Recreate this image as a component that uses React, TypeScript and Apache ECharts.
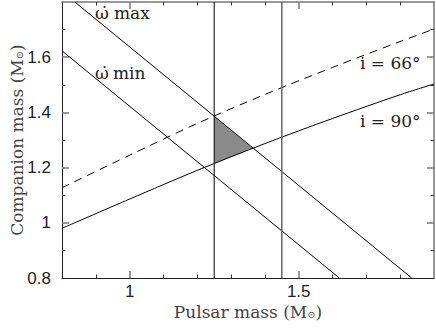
import React, { useEffect, useRef } from "react";
import * as echarts from "echarts";

// Axis ranges and ticks
const xRange = [0.8, 1.9];
const yRange = [0.8, 1.8];
const xMajorTicks = [1, 1.5];
const xMinorTicks = [0.9, 1.1, 1.2, 1.3, 1.4, 1.6, 1.7, 1.8];
const yMajorTicks = [1, 1.2, 1.4, 1.6];
const yMinorTicks = [0.9, 1.1, 1.3, 1.5, 1.7];
const xTickLabels = [1, 1.5];
const yTickLabels = [0.8, 1, 1.2, 1.4, 1.6];

// Constraint lines (pulsar mass, companion mass)
const omegaMaxX = [0.838, 1.834];
const omegaMaxY = [1.8, 0.8];
const omegaMinX = [0.8, 1.62];
const omegaMinY = [1.623, 0.8];
const incl90X = [0.8, 1.0, 1.2, 1.4, 1.6, 1.8, 1.9];
const incl90Y = [0.98, 1.086, 1.19, 1.287, 1.378, 1.464, 1.503];
const incl66X = [0.8, 1.0, 1.2, 1.4, 1.6, 1.8, 1.9];
const incl66Y = [1.127, 1.245, 1.36, 1.465, 1.563, 1.657, 1.702];
const vertLow = 1.25;
const vertHigh = 1.45;
// Allowed region (shaded triangle)
const shadeX = [1.25, 1.25, 1.364];
const shadeY = [1.387, 1.214, 1.27];

const FONT_SERIF = "DejaVu Serif";
const FONT_SANS = "Liberation Sans";

function pairs(xs: number[], ys: number[]) {
  return xs.map((x, i) => [x, ys[i]]);
}

function makeAxis(
  dir: "x" | "y",
  position: string,
  range: number[],
  ticks: number[],
  len: number,
  tickColor: string,
  tickWidth: number,
  labels: number[] | null,
  line: { color: string; width: number } | null,
  extra: any = {}
) {
  return {
    type: "value",
    position,
    min: range[0],
    max: range[1],
    axisLine: line
      ? { show: true, onZero: false, lineStyle: { color: line.color, width: line.width } }
      : { show: false, onZero: false },
    axisTick: {
      show: true,
      inside: true,
      length: len,
      customValues: ticks,
      lineStyle: { color: tickColor, width: tickWidth },
    },
    axisLabel: labels
      ? {
          show: true,
          customValues: labels,
          fontFamily: FONT_SANS,
          fontSize: 17,
          color: "#222",
          margin: dir === "x" ? 5 : 11,
        }
      : { show: false },
    splitLine: { show: false },
    ...extra,
  };
}

export default function App() {
  const ref = useRef<HTMLDivElement>(null);

  useEffect(() => {
    if (!ref.current) return;
    const chart = echarts.init(ref.current, null, { renderer: "svg" });
    const subRich = {
      s: { fontFamily: FONT_SERIF, fontSize: 10, color: "#444", padding: [5, 0, 0, 0] },
    };
    const option: any = {
      animation: false,
      backgroundColor: "#fff",
      grid: {
        left: 62,
        right: 2,
        top: 2,
        bottom: 56,
        containLabel: false,
        outerBoundsMode: "none",
      },
      xAxis: [
        makeAxis("x", "bottom", xRange, xMinorTicks, 3.5, "#333", 1, null, { color: "#222", width: 1 }),
        makeAxis("x", "bottom", xRange, xMajorTicks, 7, "#777", 1.5, xTickLabels, null, {
          name: "Pulsar mass (M{s|⊙})",
          nameLocation: "middle",
          nameGap: 25,
          nameMoveOverlap: false,
          nameTextStyle: {
            fontFamily: FONT_SERIF,
            fontSize: 17,
            color: "#444",
            rich: subRich,
          },
        }),
        makeAxis("x", "top", xRange, xMinorTicks, 3.5, "#333", 1, null, { color: "#777", width: 1.5 }),
        makeAxis("x", "top", xRange, xMajorTicks, 7, "#777", 1.5, null, null),
      ],
      yAxis: [
        makeAxis("y", "left", yRange, yMinorTicks, 3.5, "#333", 1, null, { color: "#222", width: 1 }),
        makeAxis("y", "left", yRange, yMajorTicks, 7, "#777", 1.5, yTickLabels, null, {
          name: "Companion mass (M{s|⊙})",
          nameLocation: "middle",
          nameGap: 37,
          nameMoveOverlap: false,
          nameTextStyle: {
            fontFamily: FONT_SERIF,
            fontSize: 17,
            color: "#444",
            rich: subRich,
          },
        }),
        makeAxis("y", "right", yRange, yMinorTicks, 3.5, "#333", 1, null, { color: "#777", width: 1.5 }),
        makeAxis("y", "right", yRange, yMajorTicks, 7, "#777", 1.5, null, null),
      ],
      series: [
        {
          type: "custom",
          xAxisIndex: 0,
          yAxisIndex: 0,
          data: [0],
          z: 1,
          renderItem: (_params: any, api: any) => ({
            type: "polygon",
            shape: { points: shadeX.map((x, i) => api.coord([x, shadeY[i]])) },
            style: { fill: "#8a8a8a", stroke: "none" },
          }),
        },
        {
          type: "line",
          data: pairs(omegaMaxX, omegaMaxY),
          symbol: "none",
          lineStyle: { color: "#000", width: 1 },
          z: 3,
        },
        {
          type: "line",
          data: pairs(omegaMinX, omegaMinY),
          symbol: "none",
          lineStyle: { color: "#000", width: 1 },
          z: 3,
        },
        {
          type: "line",
          data: pairs(incl90X, incl90Y),
          symbol: "none",
          smooth: 0.3,
          lineStyle: { color: "#000", width: 1 },
          z: 3,
        },
        {
          type: "line",
          data: pairs(incl66X, incl66Y),
          symbol: "none",
          smooth: 0.3,
          lineStyle: { color: "#000", width: 1, type: [8, 6] },
          z: 3,
        },
        {
          type: "line",
          data: [
            [vertLow, yRange[0]],
            [vertLow, yRange[1]],
          ],
          symbol: "none",
          lineStyle: { color: "#000", width: 1 },
          z: 3,
        },
        {
          type: "line",
          data: [
            [vertHigh, yRange[0]],
            [vertHigh, yRange[1]],
          ],
          symbol: "none",
          lineStyle: { color: "#666", width: 1.5 },
          z: 3,
        },
      ],
      graphic: [
        {
          type: "text",
          x: 95,
          y: 13,
          style: { text: "ω̇", font: `17px '${FONT_SERIF}'`, fill: "#222", verticalAlign: "middle" },
        },
        {
          type: "text",
          x: 114,
          y: 13,
          style: { text: "max", font: `17px '${FONT_SERIF}'`, fill: "#222", verticalAlign: "middle" },
        },
        {
          type: "text",
          x: 95,
          y: 73,
          style: { text: "ω̇", font: `17px '${FONT_SERIF}'`, fill: "#222", verticalAlign: "middle" },
        },
        {
          type: "text",
          x: 113,
          y: 73,
          style: { text: "min", font: `17px '${FONT_SERIF}'`, fill: "#222", verticalAlign: "middle" },
        },
        {
          type: "text",
          x: 360,
          y: 63,
          style: { text: "i = 66°", font: `17px '${FONT_SERIF}'`, fill: "#222", verticalAlign: "middle" },
        },
        {
          type: "text",
          x: 360,
          y: 121,
          style: { text: "i = 90°", font: `17px '${FONT_SERIF}'`, fill: "#222", verticalAlign: "middle" },
        },
      ],
    };
    chart.setOption(option);
    return () => chart.dispose();
  }, []);

  return (
    <div
      ref={ref}
      style={{ position: "fixed", left: 0, top: 0, width: 436, height: 334, background: "#fff" }}
    />
  );
}
